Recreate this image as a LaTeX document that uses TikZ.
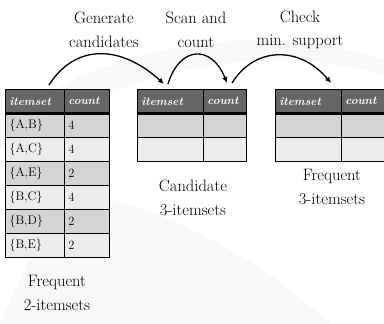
\documentclass[tikz,border=0pt]{standalone}
\usetikzlibrary{arrows.meta}
\definecolor{hdrgray}{HTML}{666666}
\definecolor{rowd}{HTML}{D4D4D4}
\definecolor{rowl}{HTML}{ECECEC}
\definecolor{bgswoosh}{HTML}{F8F8F8}
\tikzset{
  cell/.style={draw=black, line width=0.6pt, anchor=north west, minimum height=24pt,
    inner xsep=4pt, inner ysep=0pt, align=left, font=\fontsize{12.5}{14}\selectfont},
  hdr/.style={cell, fill=hdrgray, text=white, font=\fontsize{11.5}{13}\selectfont\bfseries\itshape},
  lbl/.style={align=center, font=\fontsize{16.5}{23.5}\selectfont},
  flow/.style={line width=1.3pt, -{Latex[length=6pt,width=5.5pt]}},
  sep/.style={line width=2.4pt}
}
\begin{document}
\begin{tikzpicture}[x=1pt,y=-1pt]
\clip (0,0) rectangle (384,324);
\fill[white] (0,0) rectangle (384,324);
% faint background swooshes
\fill[bgswoosh] (0,120) .. controls (120,40) and (260,20) .. (384,60) -- (384,75) .. controls (260,40) and (120,70) .. (0,150) -- cycle;
\fill[bgswoosh] (0,324) -- (60,190) .. controls (150,200) and (250,250) .. (330,324) -- cycle;

% ---- left table: frequent 2-itemsets
\node[hdr, text width=51pt] (L0a) at (5,89) {itemset};
\node[hdr, text width=37pt] (L0b) at (64,89) {count};
\node[cell, fill=rowd, text width=51pt] (L1a) at (5,113) {\{A,B\}};
\node[cell, fill=rowd, text width=37pt] (L1b) at (64,113) {4};
\node[cell, fill=rowl, text width=51pt] (L2a) at (5,137) {\{A,C\}};
\node[cell, fill=rowl, text width=37pt] (L2b) at (64,137) {4};
\node[cell, fill=rowd, text width=51pt] (L3a) at (5,161) {\{A,E\}};
\node[cell, fill=rowd, text width=37pt] (L3b) at (64,161) {2};
\node[cell, fill=rowl, text width=51pt] (L4a) at (5,185) {\{B,C\}};
\node[cell, fill=rowl, text width=37pt] (L4b) at (64,185) {4};
\node[cell, fill=rowd, text width=51pt] (L5a) at (5,209) {\{B,D\}};
\node[cell, fill=rowd, text width=37pt] (L5b) at (64,209) {2};
\node[cell, fill=rowl, text width=51pt] (L6a) at (5,233) {\{B,E\}};
\node[cell, fill=rowl, text width=37pt] (L6b) at (64,233) {2};
\draw[sep] (L0a.south west) -- (L0b.south east);

% ---- middle table: candidate 3-itemsets
\node[hdr, text width=58pt] (M0a) at (137,89) {itemset};
\node[hdr, text width=35pt] (M0b) at (203,89) {count};
\node[cell, fill=rowd, text width=58pt] (M1a) at (137,113) {};
\node[cell, fill=rowd, text width=35pt] (M1b) at (203,113) {};
\node[cell, fill=rowl, text width=58pt] (M2a) at (137,137) {};
\node[cell, fill=rowl, text width=35pt] (M2b) at (203,137) {};
\draw[sep] (M0a.south west) -- (M0b.south east);

% ---- right table: frequent 3-itemsets
\node[hdr, text width=58pt] (R0a) at (275,89) {itemset};
\node[hdr, text width=39pt] (R0b) at (341,89) {count};
\node[cell, fill=rowd, text width=58pt] (R1a) at (275,113) {};
\node[cell, fill=rowd, text width=39pt] (R1b) at (341,113) {};
\node[cell, fill=rowl, text width=58pt] (R2a) at (275,137) {};
\node[cell, fill=rowl, text width=39pt] (R2b) at (341,137) {};
\draw[sep] (R0a.south west) -- (R0b.south east);

% ---- labels
\node[lbl] (tg) at (104,30) {Generate\\candidates};
\node[lbl] (ts) at (196,30) {Scan and\\count};
\node[lbl] (tc) at (300,30) {Check\\min. support};
\node[lbl] (bc) at (193,198) {Candidate\\3-itemsets};
\node[lbl] (bf) at (332,187) {Frequent\\3-itemsets};
\node[lbl] (bl) at (57,293) {Frequent\\2-itemsets};

% ---- arrows
\coordinate (a1s) at (49,85);
\coordinate (a1e) at (164,84);
\coordinate (a2s) at (168,84);
\coordinate (a2e) at (227,83);
\coordinate (a3s) at (232,83);
\coordinate (a3e) at (331,83);
\draw[flow] (a1s) .. controls (75,44) and (120,44) .. (a1e);
\draw[flow] (a2s) .. controls (180,45) and (212,45) .. (a2e);
\draw[flow] (a3s) .. controls (255,46) and (300,46) .. (a3e);
\end{tikzpicture}
\end{document}
